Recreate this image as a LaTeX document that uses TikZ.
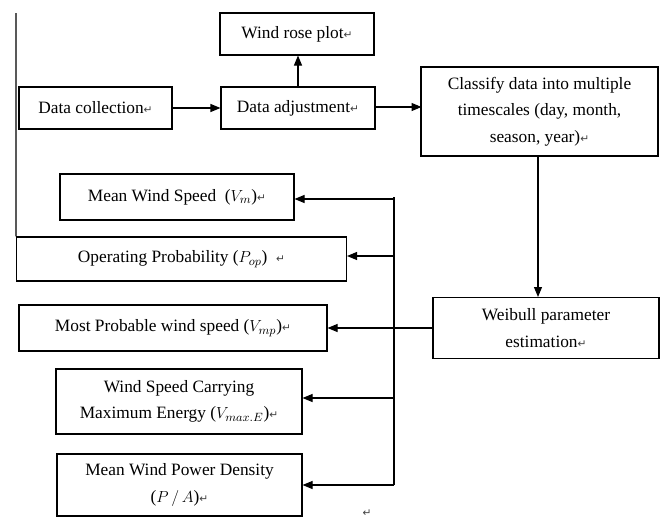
\documentclass[tikz,border=0pt]{standalone}
\usepackage{fontspec}
\setmainfont{Liberation Serif}
\newfontfamily\retfont{DejaVu Sans}
\usepackage{amsmath}
\usetikzlibrary{arrows.meta}
\newcommand{\pmark}{{\retfont\fontsize{8}{8}\selectfont\textcolor{black!75}{↵}}}

\begin{document}
\begin{tikzpicture}[x=0.75pt, y=-0.75pt, line width=0.8pt,
    box/.style={draw, rectangle, align=center, inner sep=2pt,
      font=\fontsize{13}{20}\selectfont},
    arr/.style={-{Triangle[length=7.5pt, width=6pt]}}]
    \useasboundingbox (0,0) rectangle (663,518);

    % top row
    \node [box, minimum width=114.75pt, minimum height=31.5pt] (coll) at (95.5,108) {Data collection\pmark};
    \node [box, minimum width=115.5pt, minimum height=31.5pt] (rose) at (297,34) {Wind rose plot\pmark};
    \node [box, minimum width=115.5pt, minimum height=31.5pt] (adj) at (298,108) {Data adjustment\pmark};
    \node [box, minimum width=177.75pt, minimum height=66.75pt] (cls) at (539.5,111.5)
      {Classify data into multiple\\ timescales (day, month,\\ season, year)\pmark};
    \node [box, minimum width=169.5pt, minimum height=45.75pt] (weib) at (546,328)
      {Weibull parameter\\ estimation\pmark};

    % outputs
    \node [box, minimum width=175.5pt, minimum height=34.5pt] (mws) at (177,197) {Mean Wind Speed\ \ ($V_m$)\pmark};
    \node [box, minimum width=247.5pt, minimum height=33pt] (op) at (181.5,259) {Operating Probability ($P_{op}$)\ \ \pmark};
    \node [box, minimum width=231pt, minimum height=34.5pt] (mpws) at (173,328) {Most Probable wind speed ($V_{mp}$)\pmark};
    \node [box, minimum width=184.5pt, minimum height=48.75pt] (vme) at (179,401.5)
      {Wind Speed Carrying\\ Maximum Energy ($V_{max.E}$)\pmark};
    \node [box, minimum width=183.75pt, minimum height=46.5pt] (mwpd) at (179.5,485)
      {Mean Wind Power Density\\ ($P\,/\,A$)\pmark};
    \node (stray) at (367,513) {\pmark};

    \draw [arr] (coll.east) -- (coll.east -| adj.west);
    \draw [arr] (adj.north) -- (adj.north |- rose.south);
    \draw [arr] (adj.east) ++(0,-1) -- ++(46,0) coordinate (clsin);
    \draw [arr] (cls.south) ++(-1.5,0) -- (538,297) coordinate (weibin);
    \draw [arr] (weib.west) -- (weib.west -| mpws.east);

    % bus
    \coordinate (bustop) at (394,197);
    \coordinate (busbot) at (394,485);
    \draw (bustop) -- (busbot);
    \draw [arr] (394,199) -- (mws.east |- 0,199);
    \draw [arr] (394,256) -- (op.east |- 0,256);
    \draw [arr] (394,398) -- (vme.east |- 0,398);
    \draw [arr] (busbot) -- (mwpd.east);

    % left border line
    \coordinate (edge) at (16,13);
    \draw (edge) -- (op.north west);
\end{tikzpicture}
\end{document}
